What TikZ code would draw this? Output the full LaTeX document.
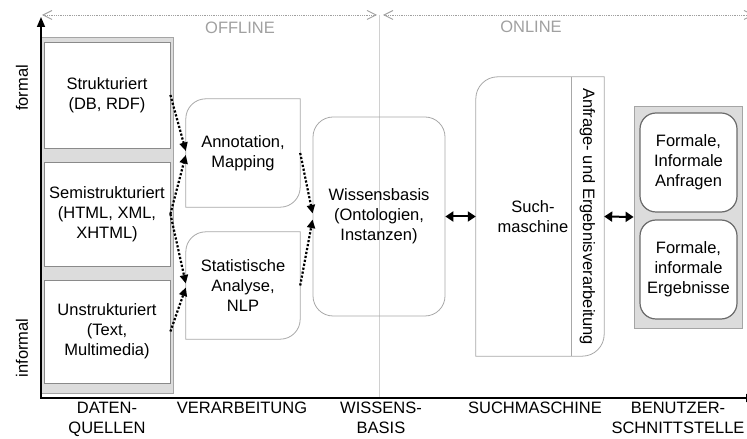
\documentclass[tikz,border=0pt]{standalone}
\usepackage{fontspec}
\setmainfont{Liberation Sans}
\usetikzlibrary{arrows.meta}
\definecolor{panel}{HTML}{DCDCDC}
\definecolor{panelline}{HTML}{A5A5A5}
\definecolor{srcline}{HTML}{8A8A8A}
\definecolor{procline}{HTML}{A8A8A8}
\definecolor{uiline}{HTML}{6A6A6A}
\definecolor{phasegray}{HTML}{A0A0A0}
\definecolor{divgray}{HTML}{D0D0D0}
\begin{document}
\begin{tikzpicture}[x=1pt,y=1pt,
  txt/.style={font=\fontsize{16.5}{20}\selectfont, align=center, inner sep=0pt},
  srcbox/.style={txt, draw=srcline, fill=white, line width=0.8pt, minimum width=126pt},
  shell/.style={txt, minimum width=114pt},
  procedge/.style={draw=procline, line width=0.8pt},
  uibox/.style={txt, draw=uiline, fill=white, line width=1.2pt, rounded corners=16pt,
    minimum width=97pt, minimum height=99pt},
  dotarrow/.style={line width=2.2pt, dash pattern=on 2.2pt off 1.8pt,
    -{Triangle[length=8.5pt,width=8pt]}},
  dblarrow/.style={line width=2pt,
    {Triangle[length=8pt,width=10pt]}-{Triangle[length=8pt,width=10pt]}},
  axis/.style={line width=1.6pt, -{Triangle[length=10pt,width=8pt]}},
  phase/.style={draw=phasegray, line width=0.8pt, dash pattern=on 0.9pt off 0.9pt,
    {Straight Barb[length=9pt,width=9pt,line width=0.9pt]}-{Straight Barb[length=9pt,width=9pt,line width=0.9pt]}},
  phasetxt/.style={txt, text=phasegray},
  axistxt/.style={txt, anchor=north}
]
\useasboundingbox (0,0) rectangle (747,439);
\clip (0,0) rectangle (747,439);

% offline / online phases
\coordinate (offl) at (42,424);
\coordinate (offr) at (377,424);
\coordinate (onl) at (383,424);
\coordinate (onr) at (754,424);
\coordinate (divtop) at (379,424);
\coordinate (divbot) at (379,42);
\draw[divgray, line width=0.7pt] (divtop) -- (divbot);
\draw[phase] (offl) -- (offr);
\draw[phase] (onl) -- (onr);
\node[phasetxt] (offline) at (240,411) {OFFLINE};
\node[phasetxt] (online) at (531,412) {ONLINE};

% data sources
\node[fill=panel, draw=panelline, line width=0.8pt, minimum width=132pt, minimum height=356pt] (dq) at (107,224) {};
\node[srcbox, minimum height=106pt] (s1) at (107,344) {Strukturiert\\(DB, RDF)};
\node[srcbox, minimum height=104pt] (s2) at (107,225) {Semistrukturiert\\(HTML, XML,\\XHTML)};
\node[srcbox, minimum height=103pt] (s3) at (107,107.5) {Unstrukturiert\\(Text,\\Multimedia)};

% processing
\node[shell, minimum height=108pt] (ann) at (243,286) {Annotation,\\Mapping};
\draw[procedge] (ann.south west) -- ([yshift=-20pt]ann.north west)
  arc[start angle=180, end angle=90, radius=20pt] -- (ann.north east)
  -- ([yshift=20pt]ann.south east)
  arc[start angle=0, end angle=-90, radius=20pt] -- cycle;
\node[shell, minimum height=107pt] (stat) at (243,153.5) {Statistische\\Analyse,\\NLP};
\draw[procedge] (stat.south west) -- ([yshift=-20pt]stat.north west)
  arc[start angle=180, end angle=90, radius=20pt] -- (stat.north east)
  -- ([yshift=20pt]stat.south east)
  arc[start angle=0, end angle=-90, radius=20pt] -- cycle;

% knowledge base
\node[txt, draw=procline, line width=0.8pt, rounded corners=20pt,
  minimum width=132pt, minimum height=199pt] (wb) at (379,222.5) {Wissensbasis\\(Ontologien,\\Instanzen)};

% search engine
\node[minimum width=128pt, minimum height=279pt, inner sep=0pt] (sm) at (540,222.5) {};
\draw[procedge] (sm.south west) -- ([yshift=-22pt]sm.north west)
  arc[start angle=180, end angle=90, radius=22pt] -- (sm.north east)
  -- ([yshift=22pt]sm.south east)
  arc[start angle=0, end angle=-90, radius=22pt] -- cycle;
\draw[procedge] ([xshift=-33pt]sm.north east) -- ([xshift=-33pt]sm.south east);
\node[txt] (smtxt) at (533,222) {Such-\\maschine};
\node[txt, rotate=-90] (qr) at (587.5,222.5) {Anfrage- und Ergebnisverarbeitung};

% user interface
\node[fill=panel, draw=panelline, line width=0.8pt, minimum width=108pt, minimum height=222pt] (bs) at (688,222) {};
\node[uibox] (uiq) at (688.5,276.5) {Formale,\\Informale\\Anfragen};
\node[uibox] (uir) at (688.5,169.5) {Formale,\\informale\\Ergebnisse};

% flows
\draw[dotarrow] (s1.east) -- ([yshift=2pt]ann.west);
\draw[dotarrow] (s2.east) -- ([yshift=-2pt]ann.west);
\draw[dotarrow] (s2.east) -- ([yshift=2pt]stat.west);
\draw[dotarrow] (s3.east) -- ([yshift=-2pt]stat.west);
\draw[dotarrow] (ann.east) -- ([yshift=3pt]wb.west);
\draw[dotarrow] (stat.east) -- ([yshift=-3pt]wb.west);
\draw[dblarrow] (wb.east) -- (sm.west);
\draw[dblarrow] (sm.east) -- (bs.west);

% axes
\coordinate (origin) at (41,41);
\coordinate (ytip) at (41,422);
\coordinate (xtip) at (756,41);
\draw[axis] (origin) -- (ytip);
\draw[axis] ([xshift=-0.8pt]origin) -- (xtip);
\node[txt, rotate=90] (formal) at (22,351) {formal};
\node[txt, rotate=90] (informal) at (22,91) {informal};

\node[axistxt] (lq) at (107,37) {DATEN-\\QUELLEN};
\node[axistxt] (lv) at (242,37) {VERARBEITUNG};
\node[axistxt] (lw) at (381,37) {WISSENS-\\BASIS};
\node[axistxt] (ls) at (535,37) {SUCHMASCHINE};
\node[axistxt] (lb) at (678,37) {BENUTZER-\\SCHNITTSTELLE};
\end{tikzpicture}
\end{document}
